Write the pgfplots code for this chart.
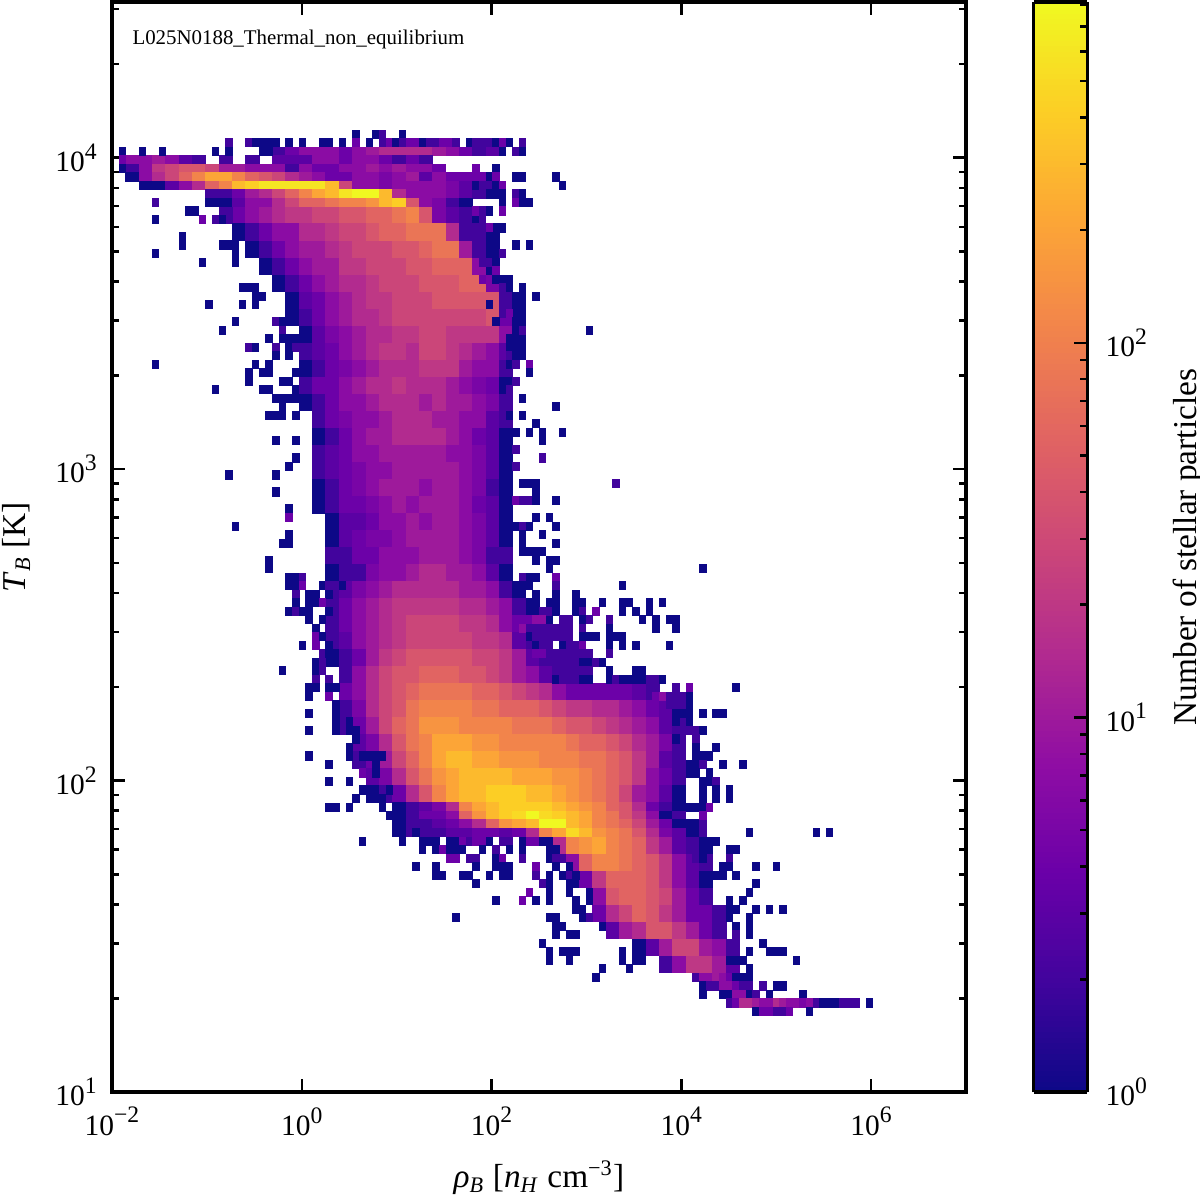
\documentclass[border=0pt]{standalone}
\usepackage{fontspec}
\setmainfont{Liberation Serif}
\usepackage{pgfplots}
\usepackage{pgfplotstable}
\pgfplotsset{compat=1.18}

\pgfplotsset{colormap={plasma}{
  rgb255=(13,8,135) rgb255=(65,4,157) rgb255=(106,0,168) rgb255=(143,13,164)
  rgb255=(177,42,144) rgb255=(204,71,120) rgb255=(225,100,98) rgb255=(242,132,75)
  rgb255=(252,166,54) rgb255=(252,206,37) rgb255=(240,249,33)}}
\pgfplotsset{cell/.style={scatter, only marks, mark=square*, line width=0.1pt, point meta=explicit}}

\newcommand{\ten}[1]{10\raisebox{0.42em}{\fontsize{8.5}{9}\selectfont #1}}
\newcommand{\lab}{\fontsize{12}{14}\selectfont}
\newcommand{\tik}{\fontsize{10.6}{12}\selectfont}

% 2x2 bins of the 128x128 histogram, count n
\pgfplotstableread{
I J n
9 51 4
8 51 2
10 51 7
11 51 10
12 51 15
13 51 20
14 51 20
15 51 28
16 51 28
17 51 40
18 51 40
19 51 56
20 51 56
21 51 80
22 51 110
23 51 40
24 51 5
25 51 3
26 51 2
27 51 1
9 50 1
10 50 2
11 50 4
12 50 7
13 50 7
14 50 15
15 50 15
16 50 20
17 50 28
18 50 28
19 50 40
20 50 56
21 50 56
22 50 80
23 50 80
24 50 80
25 50 15
26 50 2
27 50 2
28 50 1
10 49 1
11 49 2
12 49 4
13 49 7
14 49 10
15 49 10
16 49 15
17 49 20
18 49 28
19 49 28
20 49 28
21 49 40
22 49 40
23 49 56
24 49 80
25 49 80
26 49 10
27 49 2
28 49 1
11 48 1
12 48 2
13 48 4
14 48 7
15 48 10
16 48 10
17 48 20
18 48 20
19 48 28
20 48 28
21 48 28
22 48 40
23 48 40
24 48 56
25 48 56
26 48 56
27 48 7
28 48 1
12 47 1
13 47 2
14 47 4
15 47 7
16 47 10
17 47 15
18 47 15
19 47 20
20 47 28
21 47 28
22 47 28
23 47 40
24 47 40
25 47 40
26 47 56
27 47 56
28 47 5
29 47 1
13 46 1
14 46 3
15 46 4
16 46 7
17 46 10
18 46 15
19 46 20
20 46 20
21 46 28
22 46 28
23 46 28
24 46 40
25 46 40
26 46 40
27 46 40
28 46 40
29 46 2
30 46 1
13 45 1
14 45 2
15 45 4
16 45 7
17 45 10
18 45 15
19 45 15
20 45 20
21 45 28
22 45 28
23 45 28
24 45 28
25 45 28
26 45 28
27 45 28
28 45 40
29 45 4
30 45 1
14 44 1
15 44 3
16 44 5
17 44 7
18 44 10
19 44 15
20 44 15
21 44 20
22 44 20
23 44 28
24 44 28
25 44 20
26 44 20
27 44 20
28 44 20
29 44 7
30 44 1
14 43 2
15 43 3
16 43 4
17 43 7
18 43 10
19 43 15
20 43 20
21 43 20
22 43 15
23 43 28
24 43 28
25 43 20
26 43 15
27 43 10
28 43 7
29 43 3
30 43 1
14 42 1
15 42 2
16 42 4
17 42 5
18 42 7
19 42 10
20 42 15
21 42 15
22 42 15
23 42 20
24 42 20
25 42 20
26 42 10
27 42 7
28 42 7
29 42 2
14 41 2
15 41 4
16 41 4
17 41 7
18 41 10
19 41 15
20 41 15
21 41 20
22 41 15
23 41 15
24 41 15
25 41 10
26 41 7
27 41 5
28 41 4
29 41 1
14 40 1
15 40 2
16 40 4
17 40 7
18 40 7
19 40 10
20 40 15
21 40 15
22 40 15
23 40 10
24 40 15
25 40 10
26 40 10
27 40 7
28 40 5
29 40 2
15 39 2
16 39 4
17 39 5
18 39 7
19 39 7
20 39 10
21 39 15
22 39 15
23 39 15
24 39 10
25 39 10
26 39 7
27 39 7
28 39 3
29 39 2
15 38 1
16 38 2
17 38 4
18 38 7
19 38 10
20 38 10
21 38 15
22 38 15
23 38 15
24 38 15
25 38 10
26 38 7
27 38 4
28 38 3
29 38 1
15 37 2
16 37 3
17 37 4
18 37 7
19 37 7
20 37 10
21 37 10
22 37 10
23 37 10
24 37 10
25 37 7
26 37 7
27 37 5
28 37 3
29 37 1
15 36 2
16 36 3
17 36 4
18 36 5
19 36 7
20 36 7
21 36 10
22 36 10
23 36 10
24 36 10
25 36 10
26 36 7
27 36 5
28 36 3
29 36 1
15 35 1
16 35 2
17 35 4
18 35 5
19 35 7
20 35 10
21 35 10
22 35 10
23 35 7
24 35 10
25 35 10
26 35 7
27 35 5
28 35 2
29 35 1
15 34 1
16 34 2
17 34 4
18 34 4
19 34 5
20 34 7
21 34 10
22 34 7
23 34 10
24 34 10
25 34 10
26 34 7
27 34 4
28 34 3
29 34 1
16 33 1
17 33 3
18 33 3
19 33 4
20 33 7
21 33 7
22 33 10
23 33 7
24 33 10
25 33 10
26 33 7
27 33 5
28 33 3
29 33 1
16 32 1
17 32 3
18 32 4
19 32 5
20 32 5
21 32 7
22 32 10
23 32 10
24 32 10
25 32 10
26 32 7
27 32 5
28 32 3
29 32 1
16 31 2
17 31 2
18 31 4
19 31 4
20 31 7
21 31 7
22 31 7
23 31 10
24 31 10
25 31 10
26 31 7
27 31 5
28 31 2
29 31 2
16 30 1
17 30 2
18 30 2
19 30 5
20 30 7
21 30 7
22 30 10
23 30 15
24 30 15
25 30 10
26 30 10
27 30 7
28 30 3
29 30 1
16 29 2
17 29 3
18 29 5
19 29 7
20 29 10
21 29 15
22 29 15
23 29 15
24 29 15
25 29 15
26 29 10
27 29 10
28 29 7
29 29 2
30 29 1
16 28 2
17 28 4
18 28 7
19 28 10
20 28 15
21 28 20
22 28 20
23 28 20
24 28 20
25 28 20
26 28 15
27 28 15
28 28 10
29 28 7
30 28 2
31 28 1
16 27 2
17 27 4
18 27 7
19 27 10
20 27 15
21 27 20
22 27 28
23 27 28
24 27 28
25 27 28
26 27 20
27 27 20
28 27 15
29 27 7
30 27 4
31 27 3
32 27 1
16 26 2
17 26 3
18 26 7
19 26 10
20 26 15
21 26 20
22 26 28
23 26 28
24 26 28
25 26 28
26 26 28
27 26 20
28 26 20
29 26 15
30 26 3
31 26 2
32 26 1
16 25 1
17 25 2
18 25 4
19 25 10
20 25 20
21 25 28
22 25 40
23 25 40
24 25 40
25 25 40
26 25 40
27 25 28
28 25 28
29 25 20
30 25 10
31 25 3
32 25 2
33 25 1
17 24 2
18 24 7
19 24 15
20 24 28
21 24 40
22 24 40
23 24 56
24 24 56
25 24 56
26 24 40
27 24 40
28 24 28
29 24 20
30 24 10
31 24 7
32 24 3
33 24 2
34 24 1
17 23 4
18 23 7
19 23 15
20 23 28
21 23 40
22 23 56
23 23 80
24 23 80
25 23 80
26 23 80
27 23 56
28 23 56
29 23 40
30 23 28
31 23 20
32 23 15
33 23 7
34 23 4
35 23 4
36 23 4
37 23 4
38 23 4
39 23 3
40 23 2
17 22 2
18 22 5
19 22 15
20 22 28
21 22 40
22 22 80
23 22 110
24 22 110
25 22 110
26 22 110
27 22 80
28 22 80
29 22 56
30 22 56
31 22 56
32 22 40
33 22 28
34 22 20
35 22 20
36 22 15
37 22 15
38 22 10
39 22 7
40 22 4
41 22 3
42 22 2
17 21 2
18 21 4
19 21 10
20 21 28
21 21 56
22 21 80
23 21 150
24 21 150
25 21 150
26 21 110
27 21 110
28 21 110
29 21 110
30 21 80
31 21 80
32 21 80
33 21 56
34 21 40
35 21 40
36 21 28
37 21 20
38 21 15
39 21 10
40 21 7
41 21 3
42 21 2
18 20 3
19 20 5
20 20 15
21 20 40
22 20 80
23 20 110
24 20 210
25 20 210
26 20 210
27 20 150
28 20 150
29 20 110
30 20 110
31 20 110
32 20 110
33 20 110
34 20 80
35 20 56
36 20 56
37 20 40
38 20 28
39 20 15
40 20 10
41 20 5
42 20 2
18 19 2
19 19 4
20 19 10
21 19 28
22 19 56
23 19 110
24 19 210
25 19 300
26 19 300
27 19 210
28 19 210
29 19 150
30 19 150
31 19 150
32 19 110
33 19 110
34 19 110
35 19 80
36 19 80
37 19 56
38 19 40
39 19 20
40 19 10
41 19 3
42 19 2
19 18 3
20 18 5
21 18 15
22 18 40
23 18 80
24 18 150
25 18 210
26 18 300
27 18 300
28 18 300
29 18 300
30 18 210
31 18 210
32 18 210
33 18 150
34 18 150
35 18 110
36 18 80
37 18 56
38 18 40
39 18 20
40 18 7
41 18 4
42 18 2
19 17 1
20 17 2
21 17 4
22 17 15
23 17 40
24 17 110
25 17 210
26 17 300
27 17 300
28 17 415
29 17 415
30 17 415
31 17 300
32 17 300
33 17 210
34 17 150
35 17 110
36 17 80
37 17 56
38 17 28
39 17 10
40 17 7
41 17 3
42 17 1
33 14 15
34 14 110
35 14 150
36 14 210
37 14 110
38 14 80
39 14 56
40 14 20
41 14 10
42 14 3
43 14 2
44 14 1
34 13 7
35 13 56
36 13 110
37 13 110
38 13 80
39 13 56
40 13 40
41 13 20
42 13 7
43 13 3
44 13 2
34 12 1
35 12 4
36 12 20
37 12 56
38 12 56
39 12 56
40 12 40
41 12 20
42 12 7
43 12 3
44 12 1
36 11 7
37 11 40
38 11 56
39 11 56
40 11 40
41 11 28
42 11 10
43 11 4
44 11 2
36 10 4
37 10 15
38 10 28
39 10 56
40 10 40
41 10 20
42 10 10
43 10 4
44 10 4
45 10 2
37 9 3
38 9 10
39 9 15
40 9 40
41 9 40
42 9 20
43 9 10
44 9 4
45 9 2
39 8 1
40 8 3
41 8 10
42 8 28
43 8 28
44 8 10
45 8 7
46 8 2
41 7 2
42 7 7
43 7 20
44 7 20
45 7 10
46 7 3
}\coarse

% bins two wide and one high, along the two sharp bright ridges
\pgfplotstableread{
I j n
12 110 2
13 110 4
14 110 7
15 110 7
16 110 7
17 110 4
18 110 7
19 110 10
20 110 15
21 110 15
22 110 15
23 110 15
24 110 10
25 110 7
26 110 4
27 110 2
28 110 3
1 109 7
2 109 7
3 109 10
4 109 7
5 109 3
6 109 2
8 109 2
10 109 2
12 109 3
13 109 3
14 109 3
15 109 7
16 109 7
17 109 4
18 109 7
19 109 7
20 109 4
21 109 2
22 109 4
23 109 2
1 108 2
2 108 7
3 108 20
4 108 28
5 108 40
6 108 40
7 108 28
8 108 10
9 108 10
10 108 7
11 108 7
12 108 7
13 108 2
14 108 7
15 108 4
16 108 4
17 108 7
18 108 7
19 108 10
20 108 7
21 108 10
22 108 7
23 108 7
24 108 4
1 107 1
2 107 7
3 107 15
4 107 28
5 107 56
6 107 110
7 107 210
8 107 210
9 107 110
10 107 56
11 107 40
12 107 28
13 107 15
14 107 10
15 107 7
16 107 4
17 107 4
18 107 7
19 107 7
20 107 5
21 107 7
22 107 10
23 107 3
24 107 7
25 107 4
26 107 4
27 107 4
2 106 1
3 106 1
4 106 3
5 106 7
6 106 15
7 106 56
8 106 110
9 106 300
10 106 415
11 106 600
12 106 600
13 106 600
14 106 600
15 106 600
16 106 300
17 106 28
18 106 7
19 106 7
20 106 5
21 106 7
22 106 7
23 106 7
24 106 7
25 106 5
26 106 3
27 106 1
7 105 2
8 105 2
9 105 4
10 105 10
11 105 15
12 105 28
13 105 56
14 105 110
15 105 210
16 105 300
17 105 600
18 105 800
19 105 800
20 105 300
21 105 15
22 105 7
23 105 7
24 105 7
25 105 5
26 105 3
27 105 2
7 104 1
8 104 1
9 104 3
10 104 7
11 104 7
12 104 15
13 104 28
14 104 56
15 104 56
16 104 80
17 104 110
18 104 110
19 104 150
20 104 300
21 104 415
22 104 40
23 104 7
24 104 5
25 104 2
26 104 1
21 33 1
22 33 2
23 33 3
24 33 5
25 33 15
26 33 110
27 33 210
28 33 300
29 33 415
30 33 415
31 33 415
32 33 415
33 33 300
34 33 210
35 33 150
36 33 110
37 33 56
38 33 40
39 33 15
40 33 4
41 33 2
42 33 1
21 32 1
22 32 2
23 32 4
24 32 4
25 32 7
26 32 56
27 32 150
28 32 300
29 32 415
30 32 500
31 32 800
32 32 500
33 32 415
34 32 300
35 32 210
36 32 110
37 32 80
38 32 40
39 32 20
40 32 7
41 32 1
42 32 2
21 31 1
22 31 2
23 31 2
24 31 3
25 31 4
26 31 7
27 31 15
28 31 56
29 31 150
30 31 210
31 31 300
32 31 800
33 31 800
34 31 300
35 31 210
36 31 110
37 31 80
38 31 56
39 31 28
40 31 10
41 31 4
42 31 1
43 31 1
21 30 1
22 30 2
23 30 2
24 30 2
25 30 3
26 30 3
27 30 4
28 30 4
29 30 3
30 30 4
31 30 15
32 30 110
33 30 210
34 30 500
35 30 300
36 30 150
37 30 110
38 30 80
39 30 40
40 30 15
41 30 5
42 30 3
43 30 1
}\ridge

% single bins at the edges
\pgfplotstableread{
i j n
36 112 1
39 112 1
40 112 2
43 112 1
17 111 2
20 111 2
21 111 1
22 111 1
23 111 1
24 111 1
26 111 1
28 111 1
31 111 1
32 111 1
34 111 1
36 111 4
38 111 1
40 111 2
41 111 4
42 111 1
43 111 2
44 111 4
45 111 4
46 111 1
47 111 2
48 111 2
49 111 4
50 111 4
51 111 2
53 111 1
54 111 2
55 111 2
56 111 2
57 111 1
58 111 4
59 111 1
61 111 2
1 110 1
4 110 1
7 110 1
15 110 1
17 110 1
22 110 1
23 110 1
58 110 1
60 110 2
61 110 1
1 109 4
1 108 1
54 108 4
57 108 1
54 107 4
56 107 1
57 107 4
60 107 1
61 107 1
66 107 1
54 106 1
55 106 2
56 106 2
57 106 1
58 106 4
67 106 1
56 105 1
57 105 1
58 105 1
60 105 2
61 105 1
6 104 2
58 104 1
60 104 4
61 104 1
62 104 1
11 103 1
12 103 1
54 103 4
55 103 2
56 103 1
58 103 4
6 102 1
13 102 4
15 102 2
16 102 1
55 102 2
56 101 4
58 101 1
10 100 1
56 100 1
10 99 1
16 99 1
17 99 1
18 99 1
60 99 1
62 99 1
6 98 1
18 98 1
58 98 2
13 97 1
18 97 1
55 97 2
56 97 2
57 97 1
57 96 4
19 94 1
20 94 1
21 94 1
55 95 4
57 95 1
58 95 1
58 94 2
61 94 1
21 93 1
22 93 1
60 93 1
63 93 1
14 92 1
19 92 1
21 92 1
56 92 1
58 91 2
59 91 4
18 90 1
24 90 2
25 90 1
27 90 1
28 90 2
57 90 1
60 90 1
61 90 1
16 89 1
25 89 2
28 89 1
61 89 2
71 89 1
23 88 1
25 88 1
26 88 1
27 88 1
59 88 1
20 87 2
21 87 1
24 87 2
26 87 1
27 87 2
59 87 1
60 87 1
24 86 1
26 86 1
28 86 2
59 86 2
60 86 1
61 86 1
6 85 1
21 85 1
23 85 1
59 85 1
60 85 2
62 85 4
20 84 1
22 84 1
23 84 1
27 84 1
62 84 1
20 83 1
25 83 1
26 83 1
59 83 1
60 83 2
15 82 1
22 82 1
23 82 1
27 82 1
28 82 2
59 82 2
24 81 1
25 81 1
26 81 1
27 81 1
61 81 1
25 80 1
66 80 1
23 79 1
24 79 1
25 79 1
27 79 1
59 79 1
61 79 1
63 78 1
60 77 1
62 77 1
64 77 1
67 77 1
24 76 1
27 76 1
64 76 1
60 75 2
27 74 1
64 74 2
26 73 1
60 73 2
17 72 1
24 72 1
75 71 2
61 71 1
62 71 1
63 71 1
24 70 1
63 70 1
60 69 4
61 69 2
62 69 2
63 69 1
66 69 1
26 68 1
26 67 4
63 67 1
65 67 1
18 66 1
60 66 1
61 66 2
62 66 1
66 66 1
26 65 1
61 65 1
64 65 1
25 64 1
26 64 1
61 64 1
66 64 1
61 63 1
62 63 1
63 63 1
64 63 1
23 62 1
63 62 1
65 62 1
66 62 1
23 61 1
65 61 1
88 61 1
26 60 1
27 60 1
28 60 2
61 60 2
62 60 1
63 60 1
66 60 4
26 59 1
27 59 1
28 59 4
31 59 1
32 59 2
34 59 1
61 59 1
62 59 1
66 59 2
76 59 1
27 58 2
29 58 1
30 58 1
32 58 1
63 58 1
66 58 1
69 58 1
27 57 1
29 57 1
30 57 1
31 57 4
62 57 1
65 57 1
66 57 1
69 57 1
70 57 1
73 57 1
76 57 1
77 57 1
80 57 1
82 57 1
26 56 1
27 56 2
28 56 1
29 56 1
32 56 1
63 56 1
64 56 2
65 56 2
66 56 1
69 56 1
70 56 2
72 56 4
76 56 1
78 56 1
80 56 1
29 55 1
31 55 1
62 55 4
63 55 7
64 55 7
67 55 2
68 55 2
70 55 1
71 55 2
74 55 2
79 55 1
81 55 1
83 55 1
84 55 1
30 54 1
61 54 7
62 54 2
63 54 2
64 54 2
65 54 2
66 54 2
67 54 2
68 54 2
70 54 2
74 54 1
81 54 1
84 54 1
30 53 4
31 53 1
62 53 1
63 53 2
64 53 2
65 53 2
66 53 2
67 53 2
68 53 2
70 53 1
71 53 1
72 53 1
74 53 1
75 53 1
76 53 1
28 52 1
30 52 4
32 52 1
63 52 1
64 52 2
65 52 2
67 52 1
68 52 2
69 52 2
70 52 4
74 52 1
76 52 1
78 52 1
83 52 1
31 51 2
32 51 1
63 51 4
64 51 4
65 51 2
66 51 2
67 51 2
68 51 2
69 51 2
70 51 2
71 51 2
74 51 2
30 50 1
31 50 2
66 50 2
67 50 2
68 50 2
69 50 2
70 50 1
71 50 1
72 50 2
73 50 1
25 49 1
30 49 1
31 49 2
66 49 2
67 49 2
68 49 2
69 49 2
70 49 2
71 49 2
74 49 1
78 49 1
79 49 1
30 48 2
32 48 2
66 48 1
67 48 2
68 48 2
69 48 2
70 48 1
71 48 1
74 48 1
75 48 2
76 48 1
77 48 1
78 48 1
79 48 1
80 48 2
81 48 2
82 48 1
93 47 1
29 47 1
30 47 1
32 47 1
33 47 1
84 47 2
86 47 4
29 46 1
32 46 4
81 46 4
82 46 7
83 46 2
84 46 2
85 46 2
86 46 1
33 45 1
83 45 2
85 45 2
86 45 1
29 44 1
33 44 1
84 44 1
85 44 1
86 44 1
88 44 1
90 44 1
91 44 1
33 43 1
35 43 1
84 43 1
86 43 1
29 42 1
33 42 1
35 42 1
36 42 1
84 42 2
85 42 2
86 42 2
87 42 2
88 42 1
36 41 1
84 41 1
87 41 2
35 40 1
87 40 1
90 40 1
29 39 1
35 39 1
37 39 1
38 39 1
39 39 1
40 39 1
87 39 1
88 39 1
89 39 1
32 38 1
39 38 1
86 38 1
87 38 1
88 38 2
91 38 1
94 38 1
37 37 4
39 37 1
86 37 1
87 37 1
89 37 1
32 36 1
35 36 1
88 36 1
89 36 1
90 36 2
37 35 1
38 35 1
39 35 1
40 35 2
41 35 1
88 35 1
90 35 1
92 35 1
36 34 1
39 34 1
40 34 1
88 34 1
90 34 1
92 34 1
32 33 1
33 33 1
35 33 1
40 33 1
86 33 1
87 33 1
88 33 1
89 33 4
41 32 1
88 32 4
42 31 1
87 31 1
88 31 2
43 30 1
45 30 1
87 30 1
88 30 2
95 30 1
105 30 1
107 30 1
37 29 1
43 29 1
46 29 1
47 29 1
48 29 1
50 29 1
51 29 1
52 29 4
53 29 2
54 29 4
55 29 4
56 29 1
58 29 2
59 29 2
61 29 1
62 29 4
63 29 4
64 29 1
65 29 1
88 29 1
89 29 1
90 29 1
46 28 1
48 28 1
49 28 4
50 28 1
51 28 1
52 28 1
55 28 1
57 28 2
59 28 1
61 28 1
65 28 1
66 28 1
88 28 1
89 28 1
92 28 1
93 28 1
50 27 4
51 27 4
53 27 2
54 27 2
57 27 1
58 27 4
61 27 2
65 27 1
66 27 2
67 27 2
87 27 2
88 27 1
92 27 2
45 26 1
48 26 1
54 26 1
57 26 1
58 26 1
59 26 1
63 26 4
66 26 1
68 26 1
91 26 1
92 26 1
96 26 1
99 26 1
48 25 1
49 25 1
52 25 1
53 25 1
56 25 1
58 25 1
59 25 1
63 25 2
65 25 1
67 25 1
68 25 2
69 25 1
90 25 1
91 25 1
93 25 1
54 24 1
64 24 2
65 24 1
68 24 1
96 24 1
62 23 4
65 23 1
68 23 1
71 23 1
95 23 1
57 22 1
61 22 4
63 22 1
65 22 1
69 22 1
71 22 1
92 22 1
94 22 1
69 21 1
70 21 1
92 21 1
93 21 1
96 21 1
98 21 1
100 21 1
51 20 1
65 20 1
66 20 1
70 20 1
71 20 2
92 20 1
95 20 1
66 19 1
67 19 1
73 19 1
93 19 1
95 19 1
66 18 1
68 18 1
69 18 1
93 18 2
95 18 1
64 17 1
93 17 2
97 17 1
65 16 1
67 16 1
68 16 1
69 16 1
76 16 1
78 16 1
95 16 1
98 16 1
99 16 1
100 16 1
65 15 1
68 15 1
76 15 1
78 15 1
79 15 1
92 15 1
93 15 1
94 15 1
102 15 1
73 14 1
77 14 1
95 14 1
72 13 1
87 13 2
88 13 7
89 13 7
90 13 10
91 13 7
92 13 4
93 13 1
94 13 1
95 13 1
88 12 1
89 12 2
90 12 2
91 12 7
92 12 7
93 12 4
94 12 2
95 12 2
97 12 2
99 12 1
100 12 1
88 11 1
91 11 1
92 11 1
93 11 7
94 11 7
95 11 1
96 11 2
98 11 1
103 11 1
92 10 2
93 10 4
94 10 15
95 10 15
96 10 10
97 10 7
98 10 7
99 10 15
100 10 10
101 10 7
102 10 7
103 10 5
104 10 7
105 10 2
106 10 1
107 10 1
108 10 1
109 10 2
110 10 2
111 10 2
113 10 1
96 9 1
97 9 4
98 9 4
99 9 2
100 9 2
101 9 4
104 9 1
}\fine

\begin{document}
\begin{tikzpicture}
\useasboundingbox (0,0) rectangle (432pt,432pt);
\begin{axis}[
  at={(40.32pt,38.88pt)}, anchor=south west,
  scale only axis, width=307.44pt, height=392.4pt,
  xmode=log, ymode=log,
  xmin=1e-2, xmax=1e7, ymin=10, ymax=31622.8,
  xtick={1e-2,1,100,1e4,1e6},
  xticklabels={\ten{\char"2212 2},\ten{0},\ten{2},\ten{4},\ten{6}},
  minor xtick={},
  ytick={10,100,1000,10000},
  yticklabels={\ten{1},\ten{2},\ten{3},\ten{4}},
  minor ytick={20,30,40,50,60,70,80,90,200,300,400,500,600,700,800,900,2000,3000,4000,5000,6000,7000,8000,9000,20000,30000},
  tick align=inside, ticks=both,
  major tick length=4.7pt, minor tick length=2.6pt,
  tick style={black,line width=0.9pt},
  axis line style={line width=1.1pt},
  axis on top,
  tick label style={font=\tik},
  label style={font=\lab},
  xticklabel style={yshift=-2pt},
  yticklabel style={xshift=-2pt},
  xlabel={\textit{ρ}\textsubscript{\textit{B}} [\textit{n}\textsubscript{\textit{H}} cm\textsuperscript{\char"2212 3}]},
  ylabel={\textit{T}\textsubscript{\textit{B}} [K]},
  xlabel style={yshift=-2pt},
  ylabel style={yshift=2.2pt},
  colormap name=plasma,
  point meta min=0, point meta max=2.91,
  colorbar sampled,
  colorbar style={
    at={(parent axis.east)}, anchor=west, xshift=15.8pt,
    scale only axis, width=19.4pt, height=392.4pt,
    samples=200,
    ymin=0, ymax=2.91,
    ytick={0,1,2}, yticklabels={\ten{0},\ten{1},\ten{2}},
    minor ytick={0.301,0.477,0.602,0.699,0.778,0.845,0.903,0.954,
      1.301,1.477,1.602,1.699,1.778,1.845,1.903,1.954,
      2.301,2.477,2.602,2.699,2.778,2.845,2.903},
    ytick pos=right, yticklabel pos=right,
    tick align=inside,
    major tick length=4.7pt, minor tick length=2.6pt,
    tick style={black,line width=0.9pt},
    axis line style={line width=1.1pt},
    axis on top,
    tick label style={font=\tik},
    yticklabel style={xshift=3pt},
    ylabel={Number of stellar particles},
    label style={font=\lab},
    ylabel style={yshift=-2.5pt},
  },
  scatter/use mapped color={draw=mapped color,fill=mapped color},
]
\addplot[cell, mark size=2.35pt, mark options={yscale=1.277}]
  table[x expr={10^(-2+9*(\thisrow{I}+0.5)/64)}, y expr={10^(1+3.5*(\thisrow{J}+0.5)/64)}, meta expr={log10(\thisrow{n})}] {\coarse};
\addplot[cell, mark size=2.35pt, mark options={yscale=0.64}]
  table[x expr={10^(-2+9*(\thisrow{I}+0.5)/64)}, y expr={10^(1+3.5*(\thisrow{j}+0.5)/128)}, meta expr={log10(\thisrow{n})}] {\ridge};
\addplot[cell, mark size=1.15pt, mark options={yscale=1.277}]
  table[x expr={10^(-2+9*(\thisrow{i}+0.5)/128)}, y expr={10^(1+3.5*(\thisrow{j}+0.5)/128)}, meta expr={log10(\thisrow{n})}] {\fine};
\node[anchor=west, inner sep=0pt, font=\fontsize{7.52}{9}\selectfont] at (rel axis cs:0.0234,0.966) {L025N0188\_Thermal\_non\_equilibrium};
\end{axis}
\end{tikzpicture}
\end{document}
